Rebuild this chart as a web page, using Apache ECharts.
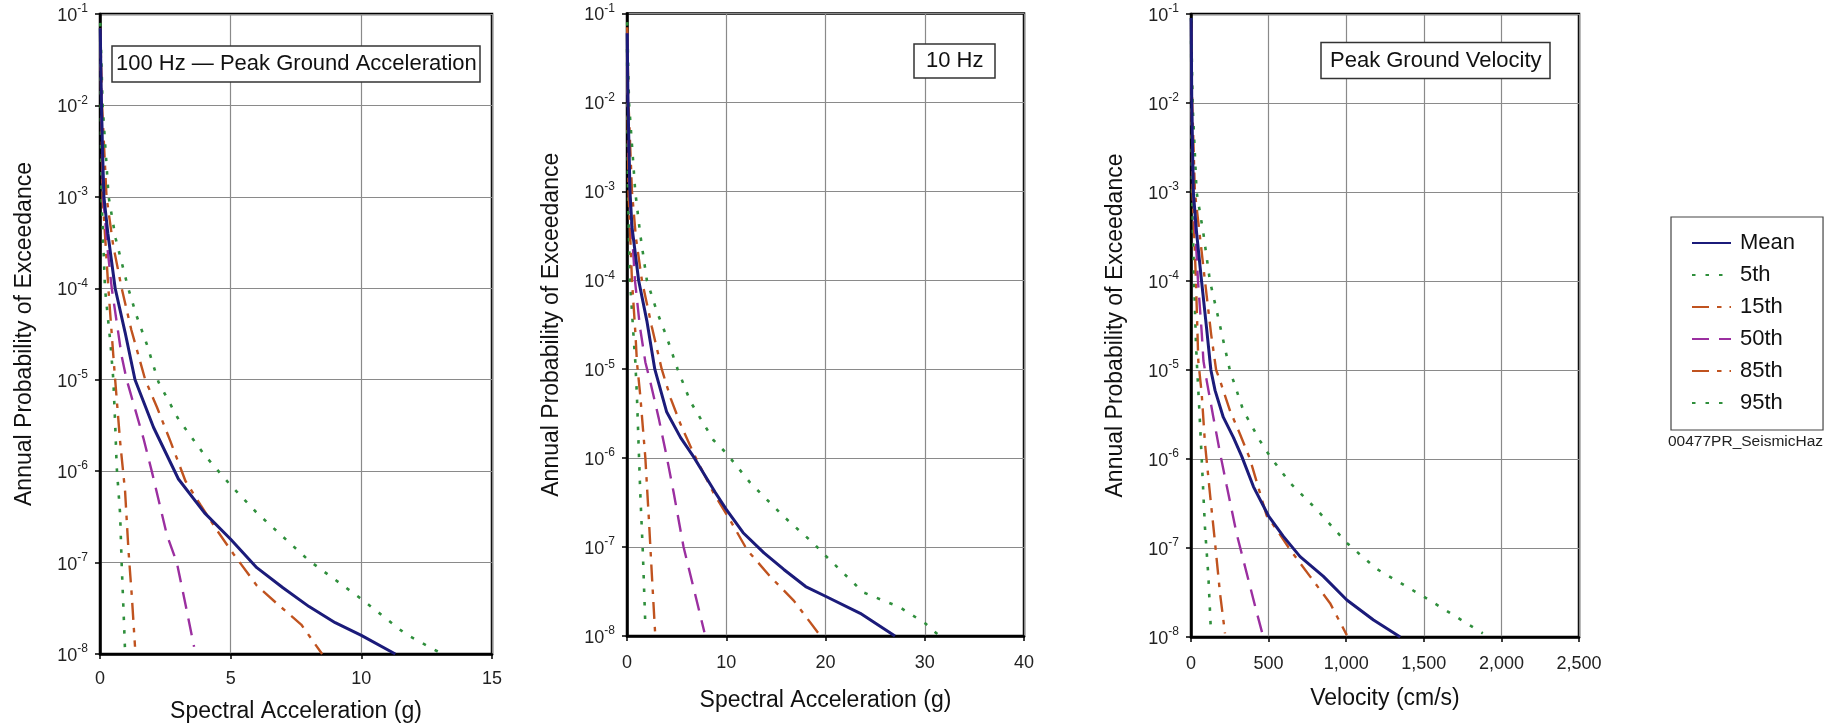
<!DOCTYPE html>
<html>
<head>
<meta charset="utf-8">
<script src="https://cdn.jsdelivr.net/npm/echarts@6/dist/echarts.min.js"></script>
<style>
  html, body { margin: 0; padding: 0; background: #fff; }
  #chart { width: 1837px; height: 728px; }
</style>
</head>
<body>
<div id="chart"></div>
<script>
// Seismic hazard curves: annual probability of exceedance vs ground motion level.
// Each curve is a list of [ground motion, annual probability] pairs.

const seriesNames = ['Mean', '5th', '15th', '50th', '85th', '95th'];
const panelTitles = ['100 Hz \u2014 Peak Ground Acceleration', '10 Hz', 'Peak Ground Velocity'];
const xAxisNames = ['Spectral Acceleration (g)', 'Spectral Acceleration (g)', 'Velocity (cm/s)'];
const xMaxima = [15, 40, 2500];
const xSteps = [5, 10, 500];
const probMin = 1e-8;
const probMax = 1e-1;
const yAxisName = 'Annual Probability of Exceedance';
const footnote = '00477PR_SeismicHaz';

// 100 Hz (peak ground acceleration), g
const pgaMean = [[0.01,7e-2],[0.05,1.2e-2],[0.1,3e-3],[0.15,1e-3],[0.3,4e-4],[0.58,1e-4],[0.96,3.3e-5],[1.34,1e-5],[2.05,3e-6],[3,8.2e-7],[4,3.5e-7],[5,1.8e-7],[6,8.8e-8],[7,5.3e-8],[8,3.3e-8],[9,2.2e-8],[10,1.6e-8],[11.3,1e-8]];
const pgaP5   = [[0.01,4e-2],[0.03,1e-2],[0.06,1e-3],[0.19,1e-4],[0.4,2.5e-5],[0.51,1e-5],[0.58,3.3e-6],[0.64,1.1e-6],[0.77,3.4e-7],[0.83,9.5e-8],[0.9,3e-8],[0.96,1.05e-8]];
const pgaP15  = [[0.01,5e-2],[0.05,1e-2],[0.1,1e-3],[0.32,1e-4],[0.5,2e-5],[0.58,1e-5],[0.77,2.1e-6],[0.96,6e-7],[1.09,1.35e-7],[1.22,4.2e-8],[1.34,1.2e-8]];
const pgaP50  = [[0.01,6e-2],[0.06,1e-2],[0.12,1e-3],[0.3,2.5e-4],[0.45,1e-4],[0.83,1.8e-5],[1.02,1e-5],[1.66,2.3e-6],[1.98,1e-6],[2.56,2e-7],[2.94,1e-7],[3.27,3.5e-8],[3.6,1.2e-8]];
const pgaP85  = [[0.01,7e-2],[0.08,1e-2],[0.25,1e-3],[0.5,3e-4],[0.83,1e-4],[1.2,3.5e-5],[1.73,1e-5],[2.18,5e-6],[2.7,2.1e-6],[3.27,7.8e-7],[3.84,4.3e-7],[4.5,2.2e-7],[5.1,1.25e-7],[6,5.6e-8],[6.8,3.5e-8],[7.7,2.1e-8],[8.5,1e-8]];
const pgaP95  = [[0.01,8e-2],[0.1,1e-2],[0.33,1e-3],[0.6,3.5e-4],[1.08,1e-4],[1.4,5e-5],[1.8,2.4e-5],[2.24,9.4e-6],[3,3.7e-6],[4,1.5e-6],[5,7e-7],[6,3.5e-7],[8,1.05e-7],[10,4e-8],[11.7,1.65e-8],[13.1,1e-8]];

// 10 Hz spectral acceleration, g
const sa10Mean = [[0.02,6e-2],[0.1,1e-2],[0.3,1e-3],[0.5,4e-4],[1.17,1e-4],[2,3.5e-5],[2.8,1e-5],[4,3.3e-6],[5.4,1.7e-6],[6.7,1.04e-6],[7.7,6.8e-7],[8.9,4.1e-7],[10,2.65e-7],[11.7,1.45e-7],[13.8,8.6e-8],[15.8,5.6e-8],[18,3.6e-8],[20,2.8e-8],[23.5,1.8e-8],[27,1e-8]];
const sa10P5   = [[0.01,4e-2],[0.04,1e-2],[0.1,1e-3],[0.3,1e-4],[0.7,2e-5],[0.84,1.2e-5],[1,5e-6],[1.17,1.4e-6],[1.34,4e-7],[1.6,8.5e-8],[1.85,1.3e-8]];
const sa10P15  = [[0.02,5e-2],[0.07,1e-2],[0.15,1e-3],[0.5,1e-4],[0.85,2.5e-5],[1,1.2e-5],[1.34,5e-6],[1.85,1e-6],[2.2,2.1e-7],[2.5,5e-8],[2.85,1e-8]];
const sa10P50  = [[0.02,6e-2],[0.1,1e-2],[0.25,1e-3],[0.8,1e-4],[1.3,3e-5],[1.85,1.2e-5],[2.35,7.2e-6],[3.2,2.8e-6],[4,1.04e-6],[4.7,4.1e-7],[5.7,1e-7],[6.7,3.5e-8],[7.8,1.1e-8]];
const sa10P85  = [[0.02,7e-2],[0.15,1e-2],[0.5,1e-3],[0.9,3e-4],[1.5,1e-4],[2.5,3e-5],[3.5,1e-5],[4.4,4.7e-6],[5.4,2.4e-6],[6.7,1.14e-6],[7.7,6.8e-7],[8.7,4.1e-7],[10.4,2e-7],[12.1,9.3e-8],[14.4,4.7e-8],[16.8,2.5e-8],[19.5,1e-8]];
const sa10P95  = [[0.02,8e-2],[0.2,1e-2],[0.83,1e-3],[1.33,3.3e-4],[2,1e-4],[3,4.5e-5],[4,2.3e-5],[5.1,1e-5],[6.4,4.3e-6],[8.7,1.6e-6],[10,1.14e-6],[12.4,5.3e-7],[15.8,2.2e-7],[18.8,1.1e-7],[20,8e-8],[23.8,3.1e-8],[27.5,2.1e-8],[30,1.4e-8],[31.5,1e-8]];

// Peak ground velocity, cm/s
const pgvMean = [[1,9e-2],[5,1e-2],[15,1e-3],[36,3.5e-4],[68,1e-4],[100,3e-5],[128,1e-5],[155,5.9e-6],[208,2.95e-6],[273,1.75e-6],[327,1.07e-6],[402,4.9e-7],[499,2.3e-7],[595,1.35e-7],[703,8e-8],[853,4.8e-8],[1004,2.6e-8],[1176,1.55e-8],[1348,1e-8]];
const pgvP5   = [[1,5e-2],[3,1e-2],[7,1e-3],[20,1e-4],[32,2e-5],[37,1.27e-5],[54,3.5e-6],[69,1e-6],[90,1.7e-7],[112,4.8e-8],[127,1.3e-8]];
const pgvP15  = [[1,6e-2],[4,1e-2],[10,1e-3],[32,1e-4],[47,1.27e-5],[69,5.4e-6],[90,1.5e-6],[122,4.1e-7],[155,1.14e-7],[187,3.1e-8],[219,1.1e-8]];
const pgvP50  = [[1,7e-2],[5,1e-2],[15,1e-3],[45,1e-4],[70,2.5e-5],[80,1.27e-5],[101,7.6e-6],[144,2.95e-6],[187,1.17e-6],[230,5e-7],[294,1.45e-7],[359,5.2e-8],[423,1.9e-8],[466,1e-8]];
const pgvP85  = [[1,8e-2],[8,1e-2],[25,1e-3],[90,1e-4],[130,2.5e-5],[162,1e-5],[187,7.6e-6],[251,3.5e-6],[316,1.9e-6],[380,1e-6],[488,2.3e-7],[553,1.6e-7],[638,9.6e-8],[767,4.8e-8],[896,2.4e-8],[1004,1.05e-8]];
const pgvP95  = [[1,9e-2],[10,1e-2],[36,1e-3],[79,3.5e-4],[122,1e-4],[175,3.9e-5],[250,1e-5],[337,3.5e-6],[445,1.6e-6],[509,1.07e-6],[638,5.4e-7],[810,2.7e-7],[1004,1.14e-7],[1197,5.8e-8],[1498,2.85e-8],[1692,1.76e-8],[1880,1.1e-8]];

const panelCurves = [
  [pgaMean, pgaP5, pgaP15, pgaP50, pgaP85, pgaP95],
  [sa10Mean, sa10P5, sa10P15, sa10P50, sa10P85, sa10P95],
  [pgvMean, pgvP5, pgvP15, pgvP50, pgvP85, pgvP95]
];

// ---- styling ----
const FONT = '"Liberation Sans", Arial, Helvetica, sans-serif';
const NAVY = '#1b1b7a';
const GREEN = '#2f8f3c';
const BROWN = '#c0531f';
const PURPLE = '#9b2fa0';

const curveStyles = {
  'Mean': { color: NAVY,   width: 3,   type: 'solid', z: 5 },
  '5th':  { color: GREEN,  width: 2.6, type: [3.5, 10], z: 3 },
  '15th': { color: BROWN,  width: 2.4, type: [17, 8, 4.5, 8], z: 3 },
  '50th': { color: PURPLE, width: 2.4, type: [17, 10], z: 4 },
  '85th': { color: BROWN,  width: 2.4, type: [17, 8, 4.5, 8], z: 3 },
  '95th': { color: GREEN,  width: 2.6, type: [3.5, 10], z: 3 }
};

const grids = [
  { left: 100,  top: 14,   width: 392, height: 643 },
  { left: 627,  top: 13.5, width: 397, height: 622.5 },
  { left: 1191, top: 14,   width: 388, height: 623 }
];
const xLabelMargins = [16, 18, 18];
const xNameGaps = [46, 53, 50];

const titleBoxes = [
  { left: 112, top: 46, padding: [6, 4, 6, 4] },
  { left: 914, top: 44, padding: [5, 12, 5, 12] },
  { left: 1321, top: 42.5, padding: [6, 9, 6, 9] }
];

function supLabel(v) {
  const e = Math.round(Math.log10(v));
  return '{b|10}{s|' + e + '}';
}

function numLabel(v) {
  return v.toLocaleString('en-US');
}

const option = {
  animation: false,
  backgroundColor: '#ffffff',
  textStyle: { fontFamily: FONT },
  title: panelTitles.map((t, i) => ({
    text: t,
    left: titleBoxes[i].left,
    top: titleBoxes[i].top,
    padding: titleBoxes[i].padding,
    borderColor: '#333',
    borderWidth: 1.5,
    backgroundColor: '#fff',
    textStyle: { fontFamily: FONT, fontSize: 22, fontWeight: 'normal', color: '#111', lineHeight: 24 }
  })),
  legend: {
    orient: 'vertical',
    left: 1671,
    top: 217,
    padding: [15, 28, 16, 20],
    borderColor: '#444',
    borderWidth: 1.2,
    itemWidth: 39,
    itemHeight: 14,
    itemGap: 10,
    selectedMode: false,
    data: seriesNames,
    itemStyle: { opacity: 0 },
    textStyle: { fontFamily: FONT, fontSize: 22, color: '#111', padding: [0, 0, 0, 4] }
  },
  graphic: [{
    type: 'text',
    left: 1668,
    top: 434,
    style: { text: footnote, font: '15.5px ' + FONT, fill: '#222' }
  }],
  grid: grids.map(g => Object.assign({ show: true, borderColor: '#000', borderWidth: 2.5, containLabel: false }, g)),
  xAxis: grids.map((g, i) => ({
    type: 'value',
    gridIndex: i,
    min: 0,
    max: xMaxima[i],
    interval: xSteps[i],
    name: xAxisNames[i],
    nameLocation: 'middle',
    nameGap: xNameGaps[i],
    nameTextStyle: { fontFamily: FONT, fontSize: 23, color: '#111' },
    axisLine: { show: true, onZero: false, lineStyle: { color: '#000', width: 2.5 } },
    axisTick: { show: true, inside: false, length: 5, lineStyle: { color: '#000', width: 1.5 } },
    axisLabel: { fontFamily: FONT, fontSize: 18, color: '#222', margin: xLabelMargins[i], formatter: numLabel },
    splitLine: { show: true, lineStyle: { color: '#8a8a8a', width: 1.2 } }
  })),
  yAxis: grids.map((g, i) => ({
    type: 'log',
    logBase: 10,
    gridIndex: i,
    min: probMin,
    max: probMax,
    splitNumber: 7,
    name: yAxisName,
    nameLocation: 'middle',
    nameGap: 64,
    nameTextStyle: { fontFamily: FONT, fontSize: 23, color: '#111' },
    axisLine: { show: true, lineStyle: { color: '#000', width: 2.5 } },
    axisTick: { show: true, inside: false, length: 5, lineStyle: { color: '#000', width: 1.5 } },
    axisLabel: {
      margin: 12,
      formatter: supLabel,
      rich: {
        b: { fontFamily: FONT, fontSize: 18, color: '#222', lineHeight: 22, verticalAlign: 'bottom' },
        s: { fontFamily: FONT, fontSize: 12, color: '#222', lineHeight: 12, verticalAlign: 'top' }
      }
    },
    splitLine: { show: true, lineStyle: { color: '#8a8a8a', width: 1.2 } }
  })),
  series: []
};

panelCurves.forEach((curves, pi) => {
  curves.forEach((data, ci) => {
    const name = seriesNames[ci];
    const st = curveStyles[name];
    option.series.push({
      name: name,
      type: 'line',
      xAxisIndex: pi,
      yAxisIndex: pi,
      data: data,
      symbol: 'none',
      showSymbol: false,
      smooth: false,
      clip: true,
      z: st.z,
      itemStyle: { color: st.color },
      lineStyle: { color: st.color, width: st.width, type: st.type, cap: 'butt' }
    });
  });
});

const chart = echarts.init(document.getElementById('chart'), null, { renderer: 'canvas' });
chart.setOption(option);
</script>
</body>
</html>
